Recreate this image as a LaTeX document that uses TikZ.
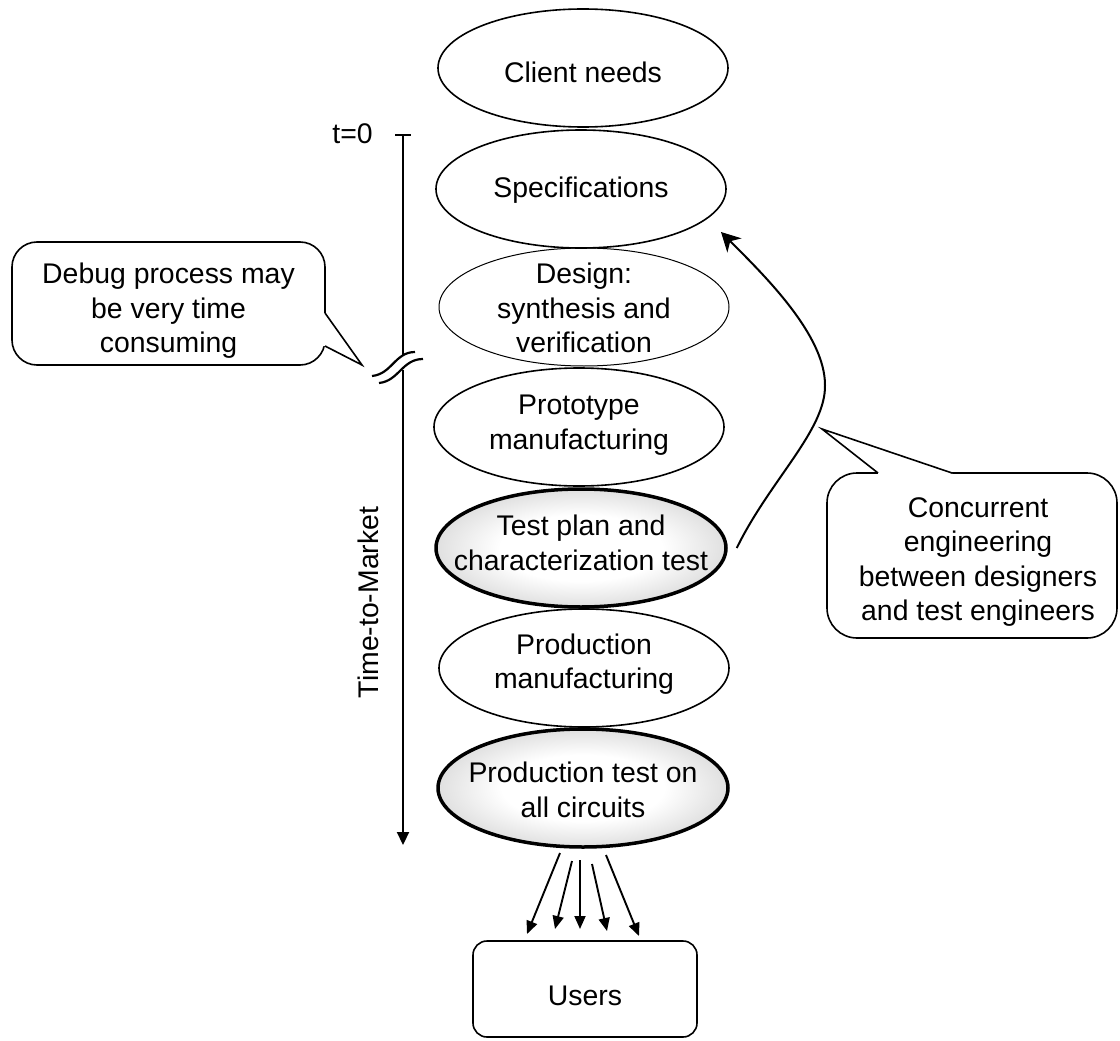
\documentclass[tikz,border=0pt]{standalone}
\usepackage{fontspec}
\setmainfont{Liberation Sans}
\usetikzlibrary{shapes.geometric,arrows.meta}
\definecolor{shedge}{gray}{0.6}
\pgfdeclareradialshading{ellshade}{\pgfpoint{0bp}{0bp}}{color(0bp)=(white); color(14bp)=(white); color(50bp)=(shedge)}
\tikzset{
  txt/.style={font=\fontsize{28.4}{34.6}\selectfont, align=center, inner sep=0pt},
  ell/.style={ellipse, draw, line width=1.6pt, minimum width=290pt, minimum height=118pt, inner sep=0pt},
  ellthin/.style={ell, line width=1pt},
  ellshaded/.style={ell, line width=3.5pt, shade, shading=ellshade},
  callbox/.style={draw, line width=1.6pt, fill=white, inner sep=0pt},
  tailline/.style={line width=1.6pt, line join=miter},
  tline/.style={line width=2.2pt},
  fanarrow/.style={line width=1.9pt, -{Triangle[length=13pt,width=11pt]}},
  bigarrow/.style={line width=2pt, -{Stealth[length=19pt,width=20pt,inset=6pt]}},
}
\begin{document}
\begin{tikzpicture}[x=1pt,y=-1pt]
\useasboundingbox (0,0) rectangle (1120,1041);

% ellipses
\node[ell] (client) at (583,68) {};
\node[ell] (spec) at (581,189) {};
\node[ellthin] (design) at (584,307) {};
\node[ell] (proto) at (579,427) {};
\node[ellshaded] (tplan) at (581,548) {};
\node[ell] (pman) at (584,668) {};
\node[ellshaded] (ptest) at (583,788) {};

\node[txt] (clientT) at (583,72) {Client needs};
\node[txt] (specT) at (581,190) {Specifications};
\node[txt] (designT) at (584,308) {Design:\\synthesis and\\verification};
\node[txt] (protoT) at (579,425) {Prototype\\manufacturing};
\node[txt] (tplanT) at (581,543) {Test plan and\\characterization test};
\node[txt] (pmanT) at (584,664) {Production\\manufacturing};
\node[txt] (ptestT) at (583,790) {Production test on\\all circuits};

% users box
\node[callbox, rounded corners=14pt, minimum width=224pt, minimum height=96pt] (users) at (585,989) {};
\node[txt] (usersT) at (585,996) {Users};

% fan arrows
\coordinate (f1s) at (560,853); \coordinate (f1e) at (527,934);
\coordinate (f2s) at (572,861); \coordinate (f2e) at (555,929);
\coordinate (f3s) at (580,860); \coordinate (f3e) at (580,929);
\coordinate (f4s) at (592,864); \coordinate (f4e) at (607,931);
\coordinate (f5s) at (606,855); \coordinate (f5e) at (639,936);
\draw[fanarrow] (f1s) -- (f1e);
\draw[fanarrow] (f2s) -- (f2e);
\draw[fanarrow] (f3s) -- (f3e);
\draw[fanarrow] (f4s) -- (f4e);
\draw[fanarrow] (f5s) -- (f5e);

% timeline
\coordinate (tickL) at (395,135);
\coordinate (tickR) at (411,135);
\coordinate (tlTop) at (403,135);
\coordinate (tlBrkA) at (403,356);
\coordinate (tlBrkB) at (403,370);
\coordinate (tlEnd) at (403,845);
\draw[tline] (tickL) -- (tickR);
\draw[tline] (tlTop) -- (tlBrkA);
\draw[tline, -{Triangle[length=13pt,width=12pt]}] (tlBrkB) -- (tlEnd);
\draw[tline] (372,376) .. controls (392,374) and (395,352) .. (415,352);
\draw[tline] (379,383) .. controls (399,381) and (402,359) .. (423,359);

\node[txt] (t0) at (352.5,133.5) {t=0};
\node[txt, rotate=90] (ttm) at (368.5,602.5) {Time-to-Market};

% left callout
\node[callbox, rounded corners=25pt, minimum width=313pt, minimum height=123pt] (dbgbox) at (168.5,303.5) {};
\coordinate (dtip) at (362,365);
\fill[white] (319,313) -- (325,313) -- (dtip) -- (325,346) -- (319,346) -- cycle;
\draw[tailline] (325,313) -- (dtip) -- (325,346);
\node[txt] (dbgT) at (168.5,311) {Debug process may\\be very time\\consuming};

% right callout
\node[callbox, rounded corners=30pt, minimum width=290pt, minimum height=165pt] (ceBox) at (972,555.5) {};
\coordinate (ctip) at (822,429);
\fill[white] (878,479) -- (878,473) -- (ctip) -- (952,473) -- (952,479) -- cycle;
\draw[tailline] (878,473) -- (ctip) -- (952,473);
\node[txt] (ceT) at (978,562) {Concurrent\\engineering\\between designers\\and test engineers};

% curved arrow
\coordinate (cend) at (721,232);
\draw[bigarrow] ([xshift=9pt]tplan.east) .. controls (770,480) and (826,430) .. (825,385)
   .. controls (825,335) and (765,276) .. (cend);
\end{tikzpicture}
\end{document}
